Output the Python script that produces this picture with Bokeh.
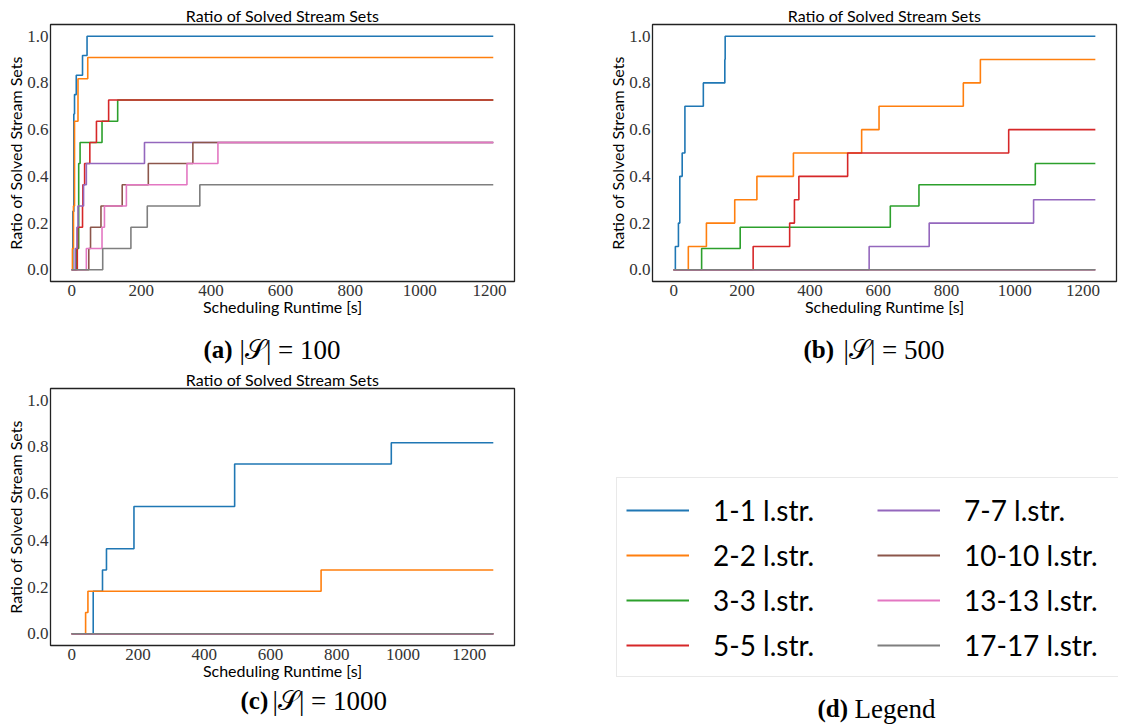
from bokeh.plotting import figure
from bokeh.models import (Range1d, FixedTicker, PrintfTickFormatter, Label, Legend, LegendItem, Title)
from bokeh.layouts import column, row
from bokeh.embed import file_html
from bokeh.resources import INLINE

# ---------------- data ----------------
series_names = ["1-1 l.str.", "2-2 l.str.", "3-3 l.str.", "5-5 l.str.",
                "7-7 l.str.", "10-10 l.str.", "13-13 l.str.", "17-17 l.str."]
colors = ["#1f77b4", "#ff7f0e", "#2ca02c", "#d62728",
          "#9467bd", "#8c564b", "#e377c2", "#7f7f7f"]

# panel (a) |S| = 100 : step times [s] and ratio reached at each step
end_a = 1211
a_t_1 = [3, 6, 8, 13, 31, 44];                 a_v_1 = [0.25, 0.667, 0.75, 0.833, 0.917, 1.0]
a_t_2 = [2, 5, 8, 18, 46];                     a_v_2 = [0.091, 0.273, 0.636, 0.818, 0.909]
a_t_3 = [13, 20, 24, 87, 132];                 a_v_3 = [0.091, 0.455, 0.545, 0.636, 0.727]
a_t_5 = [16, 17, 31, 32, 37, 52, 71, 106];     a_v_5 = [0.091, 0.182, 0.273, 0.364, 0.455, 0.545, 0.636, 0.727]
a_t_7 = [10, 15, 18, 34, 42, 209];             a_v_7 = [0.091, 0.182, 0.273, 0.364, 0.455, 0.545]
a_t_10 = [49, 54, 84, 145, 220, 348];          a_v_10 = [0.091, 0.182, 0.273, 0.364, 0.455, 0.545]
a_t_13 = [42, 87, 94, 157, 331, 420];          a_v_13 = [0.091, 0.182, 0.273, 0.364, 0.455, 0.545]
a_t_17 = [89, 170, 217, 368];                  a_v_17 = [0.091, 0.182, 0.273, 0.364]

# panel (b) |S| = 500
end_b = 1236
b_t_1 = [5, 14, 18, 25, 33, 87, 150, 151];     b_v_1 = [0.1, 0.2, 0.4, 0.5, 0.7, 0.8, 0.9, 1.0]
b_t_2 = [43, 96, 179, 244, 351, 551, 602, 849, 899]
b_v_2 = [0.1, 0.2, 0.3, 0.4, 0.5, 0.6, 0.7, 0.8, 0.9]
b_t_3 = [82, 195, 635, 719, 1060];             b_v_3 = [0.091, 0.182, 0.273, 0.364, 0.455]
b_t_5 = [233, 340, 354, 367, 510, 982];        b_v_5 = [0.1, 0.2, 0.3, 0.4, 0.5, 0.6]
b_t_7 = [573, 749, 1055];                      b_v_7 = [0.1, 0.2, 0.3]
b_t_10 = [];                                   b_v_10 = []
b_t_13 = [];                                   b_v_13 = []
b_t_17 = [];                                   b_v_17 = []

# panel (c) |S| = 1000
end_c = 1273
c_t_1 = [65, 93, 105, 188, 492, 965];          c_v_1 = [0.182, 0.273, 0.364, 0.545, 0.727, 0.818]
c_t_2 = [42, 49, 753];                         c_v_2 = [0.091, 0.182, 0.273]
c_t_3 = [];                                    c_v_3 = []
c_t_5 = [];                                    c_v_5 = []
c_t_7 = [];                                    c_v_7 = []
c_t_10 = [];                                   c_v_10 = []
c_t_13 = [];                                   c_v_13 = []
c_t_17 = [];                                   c_v_17 = []

x_ticks = [0, 200, 400, 600, 800, 1000, 1200]
y_ticks = [0.0, 0.2, 0.4, 0.6, 0.8, 1.0]

panel_a = [(a_t_1, a_v_1), (a_t_2, a_v_2), (a_t_3, a_v_3), (a_t_5, a_v_5),
           (a_t_7, a_v_7), (a_t_10, a_v_10), (a_t_13, a_v_13), (a_t_17, a_v_17)]
panel_b = [(b_t_1, b_v_1), (b_t_2, b_v_2), (b_t_3, b_v_3), (b_t_5, b_v_5),
           (b_t_7, b_v_7), (b_t_10, b_v_10), (b_t_13, b_v_13), (b_t_17, b_v_17)]
panel_c = [(c_t_1, c_v_1), (c_t_2, c_v_2), (c_t_3, c_v_3), (c_t_5, c_v_5),
           (c_t_7, c_v_7), (c_t_10, c_v_10), (c_t_13, c_v_13), (c_t_17, c_v_17)]

SANS = "Lato"
SERIF = "Liberation Serif"


def make_panel(width, height, border_left, border_right, border_top, border_bottom, xr):
    p = figure(width=width, height=height, output_backend="svg", toolbar_location=None,
               x_range=Range1d(*xr), y_range=Range1d(-0.05, 1.05),
               min_border_left=border_left, min_border_right=border_right,
               min_border_top=border_top, min_border_bottom=border_bottom)
    p.title = Title(text="Ratio of Solved Stream Sets", align="center", standoff=0,
                    text_font=SANS, text_font_size="16px", text_font_style="normal",
                    text_color="black")
    p.grid.visible = False
    p.outline_line_color = "#222222"
    p.outline_line_width = 1.3
    p.xaxis.ticker = FixedTicker(ticks=x_ticks)
    p.yaxis.ticker = FixedTicker(ticks=y_ticks)
    p.xaxis.formatter = PrintfTickFormatter(format="%d")
    p.yaxis.formatter = PrintfTickFormatter(format="%.1f")
    for ax in (p.xaxis[0], p.yaxis[0]):
        ax.axis_line_color = None
        ax.major_tick_out = 0
        ax.major_tick_in = 0
        ax.minor_tick_out = 0
        ax.minor_tick_in = 0
        ax.major_label_text_font = SERIF
        ax.major_label_text_font_size = "17px"
        ax.major_label_text_color = "#333333"
        ax.axis_label_text_font = SANS
        ax.axis_label_text_font_size = "16px"
        ax.axis_label_text_font_style = "normal"
        ax.axis_label_text_color = "black"
    p.xaxis.major_label_standoff = 3
    p.yaxis.major_label_standoff = 2
    p.xaxis.axis_label = "Scheduling Runtime [s]"
    p.yaxis.axis_label = "Ratio of Solved Stream Sets"
    p.xaxis.axis_label_standoff = -2
    p.yaxis.axis_label_standoff = -1
    return p


def step_xy(t, v, end):
    xs = [0] + list(t) + [end]
    ys = [0] + list(v) + [v[-1] if len(v) else 0]
    return xs, ys


def draw_series(p, data, end, width=1.6):
    rends = []
    for (t, v), c in zip(data, colors):
        xs, ys = step_xy(t, v, end)
        rends.append(p.step(x=xs, y=ys, mode="after", line_color=c, line_width=width))
    return rends


def blank(width, height, yr=(0, 1)):
    p = figure(width=width, height=height, output_backend="svg", toolbar_location=None,
               x_range=Range1d(0, 1), y_range=Range1d(*yr),
               x_axis_location=None, y_axis_location=None,
               min_border=0, min_border_left=0, min_border_right=0,
               min_border_top=0, min_border_bottom=0)
    p.grid.visible = False
    p.outline_line_color = None
    return p


def caption(p, x_bold, x_rest, y, bold_text, rest_text):
    p.add_layout(Label(x=x_bold, y=y, x_units="screen", y_units="screen", text=bold_text,
                       text_font=SERIF, text_font_size="25px", text_font_style="bold",
                       text_baseline="middle", text_color="black"))
    p.add_layout(Label(x=x_rest, y=y, x_units="screen", y_units="screen", text=rest_text,
                       text_font=SERIF, text_font_size="27px", text_font_style="normal",
                       text_baseline="middle", text_color="black"))


# row 1: panels (a) and (b)
pa = make_panel(572, 319, 50, 58, 24, 38, (-61, 1272))
draw_series(pa, panel_a, end_a)
pb = make_panel(546, 319, 80, 2, 24, 38, (-62, 1298))
draw_series(pb, panel_b, end_b)

cap_a = blank(572, 48)
caption(cap_a, 203, 239, 18, "(a)", "|\U0001D4AE| = 100")
cap_b = blank(546, 48)
caption(cap_b, 231, 271, 18, "(b)", "|\U0001D4AE| = 500")

# row 2: panel (c) and legend (d)
pc = make_panel(572, 317, 50, 58, 21, 39, (-64, 1337))
draw_series(pc, panel_c, end_c)
cap_c = blank(572, 40)
caption(cap_c, 190, 222, 24, "(c)", "|\U0001D4AE| = 1000")

# legend panel: the panel (c) series again, kept outside of this panel's visible y range
pd = blank(546, 357, yr=(10, 11))
legend_renderers = draw_series(pd, panel_c, end_c, width=2.2)
legend = Legend(items=[LegendItem(label=n, renderers=[r]) for n, r in zip(series_names, legend_renderers)],
                location=(44, 47), orientation="vertical", nrows=4,
                label_text_font=SANS, label_text_font_size="28px", label_text_color="black",
                glyph_width=63, glyph_height=20, label_standoff=24,
                label_width=164, label_height=45, spacing=0, padding=9, margin=0,
                border_line_color="#d4d4d4", border_line_width=1.2,
                background_fill_color="white", background_fill_alpha=1.0)
pd.add_layout(legend)
caption(pd, 245, 282, 16, "(d)", "Legend")

layout = column(row(pa, pb), row(cap_a, cap_b), row(column(pc, cap_c), pd))
open("out.html", "w").write(file_html(layout, INLINE))
